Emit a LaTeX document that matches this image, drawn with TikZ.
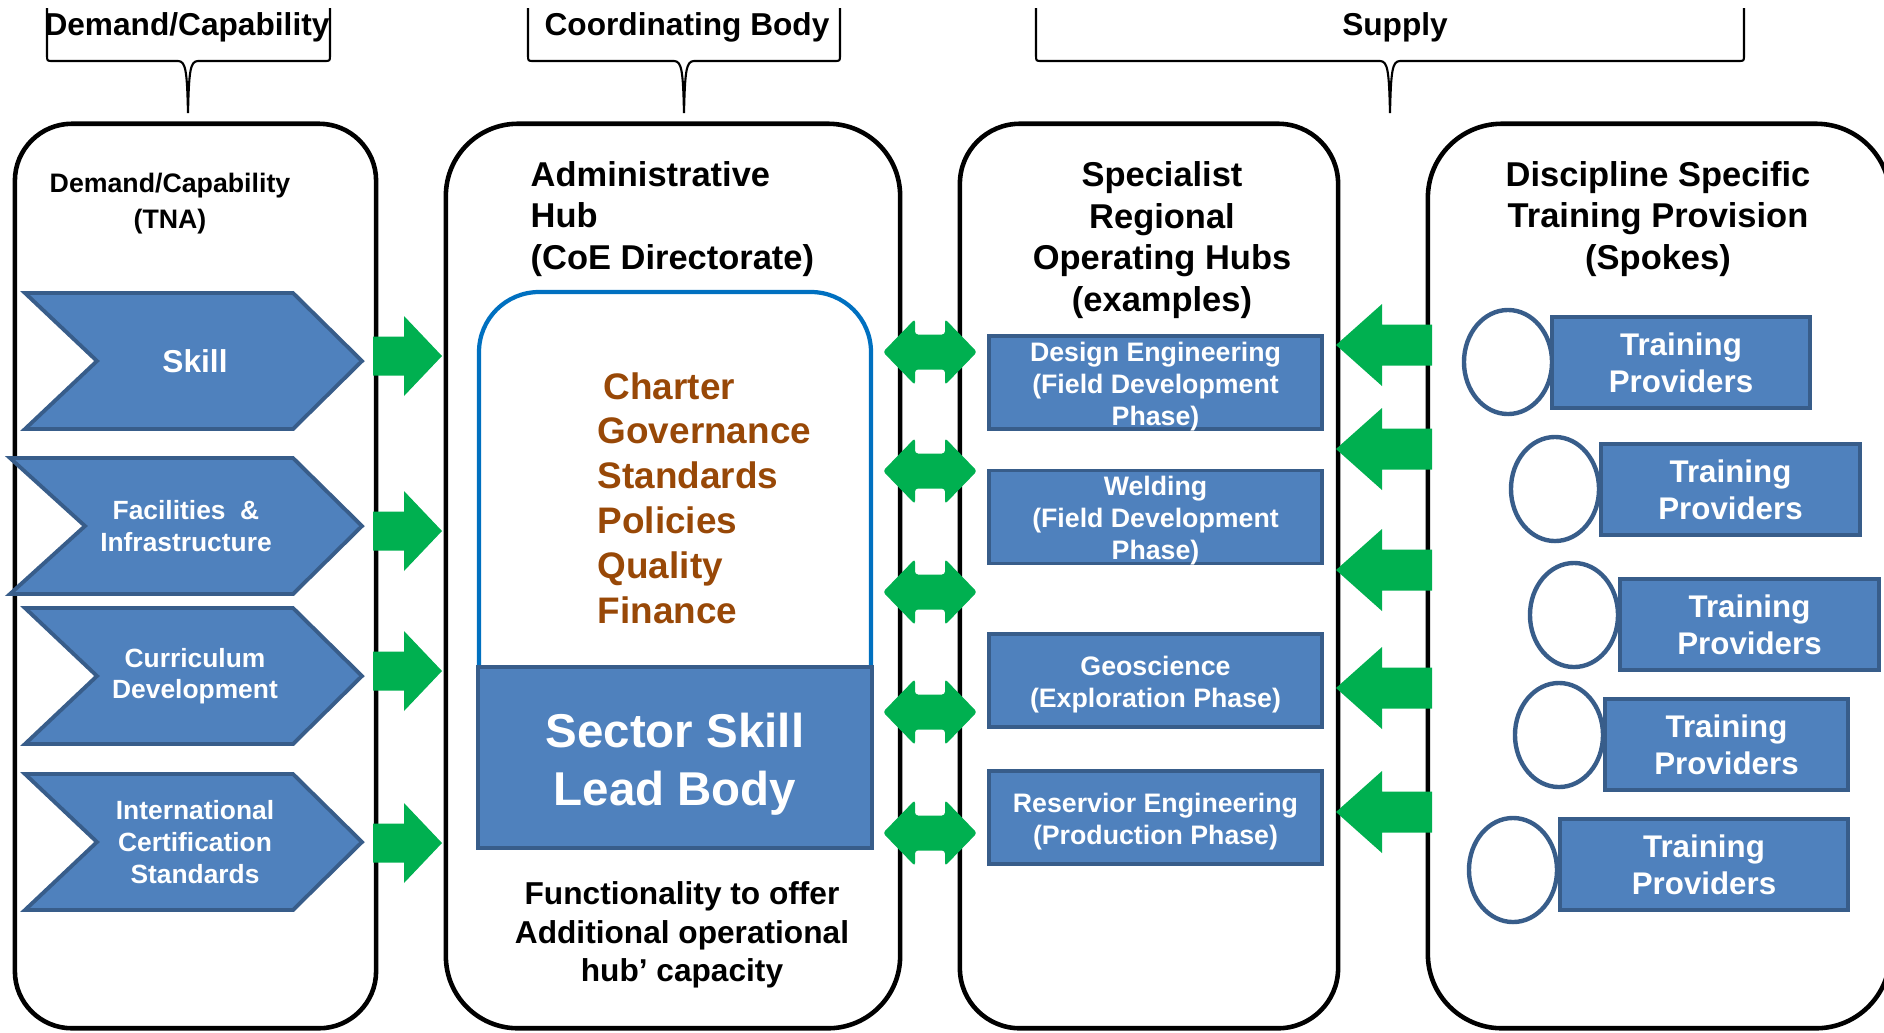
\documentclass[tikz,border=0pt]{standalone}
\usepackage{fontspec}
\setmainfont{Liberation Sans}

\definecolor{boxblue}{HTML}{4F81BD}
\definecolor{edgeblue}{HTML}{385D8A}
\definecolor{flowgreen}{HTML}{00B050}
\definecolor{govbrown}{HTML}{984807}
\definecolor{frameblue}{HTML}{0070C0}

\begin{document}
\begin{tikzpicture}[x=0.01cm, y=-0.01cm,
  colbox/.style = {draw, line width=1.3pt, rounded corners=#1, inner sep=0pt, minimum height=9.04cm},
  bracket/.style = {line width=0.6pt},
  header/.style = {font=\bfseries\fontsize{9}{11}\selectfont, anchor=base},
  coltitle/.style = {font=\bfseries\fontsize{9.8}{11.8}\selectfont, align=center},
  chevron/.style = {fill=boxblue, draw=edgeblue, line width=1.1pt},
  chevtext/.style = {text=white, font=\bfseries\fontsize{7.5}{9}\selectfont, align=center},
  hubbox/.style = {fill=boxblue, draw=edgeblue, line width=1.1pt, minimum width=3.33cm, minimum height=0.93cm, inner sep=0pt},
  hubtext/.style = {text=white, font=\bfseries\fontsize{7.6}{9.1}\selectfont, align=center, yshift=-0.04cm},
  spoke/.style = {fill=boxblue, draw=edgeblue, line width=1.1pt, minimum height=0.91cm, inner sep=0pt, text=white, font=\bfseries\fontsize{8.9}{10.5}\selectfont, align=center},
  ring/.style = {draw=edgeblue, line width=1.25pt, fill=white},
  flow/.style = {fill=flowgreen}
]
\useasboundingbox (0,0) rectangle (1884,1032);

% braces over the columns
\foreach \a/\c/\b in {47/188/330, 528/684/840, 1036/1390/1744}
  \draw[bracket] (\a,8) -- (\a,55) .. controls (\a,61) .. (\a+6,61) -- (\c-10,61)
    .. controls (\c-2,61) and (\c-1,72) .. (\c,113)
    .. controls (\c+1,72) and (\c+2,61) .. (\c+10,61) -- (\b-6,61)
    .. controls (\b,61) .. (\b,55) -- (\b,8);

\node[header] (hdemand) at (187,35) {Demand/Capability};
\node[header] (hcoord)  at (687,35) {Coordinating Body};
\node[header] (hsupply) at (1395,35) {Supply};

% the four columns
\node[colbox=0.57cm, minimum width=3.61cm] (demand)   at (195.5,576) {};
\node[colbox=0.72cm, minimum width=4.54cm] (admin)    at (673,576) {};
\node[colbox=0.6cm,  minimum width=3.78cm] (regional) at (1149,576) {};
\node[colbox=0.74cm, minimum width=4.62cm] (spokes)   at (1659,576) {};

\node[coltitle, font=\bfseries\fontsize{7.6}{10.2}\selectfont] (tdemand) at (170,204) {Demand/Capability\\(TNA)};
\node[coltitle, align=left, anchor=west, inner sep=0pt] (tadmin) at (530,219) {Administrative\\Hub\\(CoE Directorate)};
\node[coltitle] (tregional) at (1162,240) {Specialist\\Regional\\Operating Hubs\\(examples)};
\node[coltitle] (tspokes)   at (1658,219) {Discipline Specific\\Training Provision\\(Spokes)};

% demand chevrons
\foreach \cy/\lx/\nx/\tx/\txt [count=\i] in {361/25/97/195/{\fontsize{9}{11}\selectfont Skill},
    526/10/85/186/{Facilities~~\&\\Infrastructure},
    676/25/97/195/{Curriculum\\Development},
    842/25/97/195/{International\\Certification\\Standards}} {
  \draw[chevron] (\lx,\cy-68) -- (293,\cy-68) -- (362,\cy) -- (293,\cy+68) -- (\lx,\cy+68) -- (\nx,\cy) -- cycle;
  \node[chevtext] (need\i) at (\tx,\cy) {\txt};
}

\foreach \cy in {356,531,671,843}
  \fill[flow] (373,\cy-19.5) -- (404,\cy-19.5) -- (404,\cy-40) -- (442,\cy) -- (404,\cy+40) -- (404,\cy+19.5) -- (373,\cy+19.5) -- cycle;

% coordinating body
\draw[frameblue, line width=1.2pt, rounded corners=0.6cm] (479,700) -- (479,292) -- (871,292) -- (871,700);
\node[anchor=west, align=left, inner sep=0pt, text=govbrown, font=\bfseries\fontsize{10.5}{12.75}\selectfont] (remit) at (597,498)
  {\hspace{0.06cm}Charter\\Governance\\Standards\\Policies\\Quality\\Finance};
\node[fill=boxblue, draw=edgeblue, line width=1.1pt, minimum width=3.94cm, minimum height=1.81cm] (sector) at (675,757.5) {};
\node[text=white, align=center, font=\bfseries\fontsize{13.5}{16.5}\selectfont] (sectortext) at (675,764) {Sector Skill\\Lead Body};
\node[align=center, font=\bfseries\fontsize{9}{11}\selectfont] (extra) at (682,935)
  {Functionality to offer\\Additional operational\\hub’ capacity};

\foreach \cy in {352,471,592,712,833}
  \fill[flow, rounded corners=0.03cm] (883,\cy) -- (915,\cy-33) -- (915,\cy-17.5) -- (945,\cy-17.5) -- (945,\cy-33) -- (977,\cy)
    -- (945,\cy+33) -- (945,\cy+17.5) -- (915,\cy+17.5) -- (915,\cy+33) -- cycle;

% regional hubs
\foreach \name/\cy/\txt in {design/382.5/{Design Engineering\\(Field Development\\Phase)},
    welding/517/{Welding\\(Field Development\\Phase)},
    geo/680.5/{Geoscience\\(Exploration Phase)},
    reservoir/817.5/{Reservior Engineering\\(Production Phase)}} {
  \node[hubbox] (\name) at (1155.5,\cy) {};
  \node[hubtext] (\name text) at (\name) {\txt};
}

\foreach \cy in {345,449,570,688,812}
  \fill[flow] (1432,\cy-20.5) -- (1382,\cy-20.5) -- (1382,\cy-41) -- (1336,\cy) -- (1382,\cy+41) -- (1382,\cy+20.5) -- (1432,\cy+20.5) -- cycle;

% spokes
\foreach \ex/\ey/\rl/\rr/\rt [count=\i] in {1508/362/1550/1808/315, 1555/489/1599/1858/442,
    1574/615/1618/1877/577, 1559/735/1603/1846/697, 1513/870/1558/1846/817} {
  \draw[ring] (\ex,\ey) ellipse [x radius=0.44cm, y radius=0.52cm];
  \pgfmathsetmacro\w{(\rr-\rl)/100}
  \node[spoke, minimum width=\w cm, anchor=north west] (provider\i) at (\rl,\rt) {Training\\Providers};
}

\end{tikzpicture}
\end{document}
